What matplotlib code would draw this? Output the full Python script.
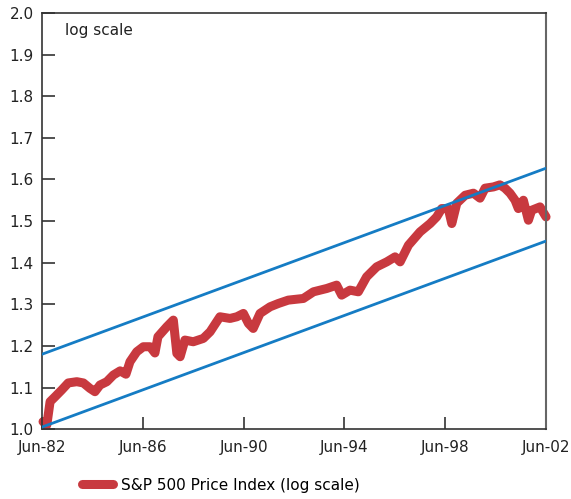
import matplotlib
matplotlib.use("Agg")
import matplotlib.pyplot as plt

# S&P 500 price index, log scale (decimal years)
sp_years = [1982.54, 1982.69, 1982.82, 1983.02, 1983.28, 1983.54, 1983.88, 1984.14,
            1984.40, 1984.60, 1984.80, 1985.07, 1985.33, 1985.60, 1985.83, 1985.99,
            1986.26, 1986.52, 1986.79, 1986.98, 1987.10, 1987.45, 1987.71, 1987.85,
            1987.98, 1988.17, 1988.50, 1988.90, 1989.17, 1989.56, 1989.96, 1990.23,
            1990.49, 1990.69, 1990.88, 1991.15, 1991.55, 1991.88, 1992.27, 1992.87,
            1993.27, 1993.80, 1994.19, 1994.39, 1994.72, 1995.05, 1995.38, 1995.78,
            1996.18, 1996.51, 1996.71, 1997.04, 1997.50, 1997.90, 1998.16, 1998.36,
            1998.62, 1998.76, 1998.96, 1999.29, 1999.62, 1999.88, 2000.08, 2000.41,
            2000.67, 2000.87, 2001.07, 2001.27, 2001.40, 2001.60, 2001.80, 2001.93,
            2002.26, 2002.50]
sp_values = [1.018, 1.010, 1.066, 1.078, 1.094, 1.111, 1.114, 1.111,
             1.098, 1.090, 1.106, 1.114, 1.130, 1.140, 1.132, 1.162,
             1.186, 1.198, 1.198, 1.183, 1.222, 1.246, 1.262, 1.182,
             1.174, 1.214, 1.210, 1.218, 1.234, 1.270, 1.266, 1.270,
             1.278, 1.254, 1.242, 1.278, 1.294, 1.302, 1.310, 1.314,
             1.330, 1.338, 1.346, 1.322, 1.334, 1.330, 1.366, 1.390,
             1.402, 1.414, 1.402, 1.442, 1.474, 1.494, 1.510, 1.530,
             1.530, 1.494, 1.543, 1.562, 1.567, 1.555, 1.579, 1.582,
             1.587, 1.579, 1.567, 1.550, 1.530, 1.550, 1.502, 1.526,
             1.534, 1.510]

# trend channel
trend_years = [1982.5, 2002.5]
upper_band = [1.180, 1.627]
lower_band = [1.005, 1.452]

tick_years = [1982.5, 1986.5, 1990.5, 1994.5, 1998.5, 2002.5]
tick_labels = ["Jun-82", "Jun-86", "Jun-90", "Jun-94", "Jun-98", "Jun-02"]
y_ticks = [1.0, 1.1, 1.2, 1.3, 1.4, 1.5, 1.6, 1.7, 1.8, 1.9, 2.0]

plt.rcParams['font.family'] = ['DejaVu Sans']

fig = plt.figure(figsize=(5.71, 4.99), dpi=100)
ax = fig.add_axes([0.0736, 0.140, 0.8827, 0.834])

red = "#c8393f"
blue = "#157cc4"

#red index line, then the blue channel drawn on top
ax.plot(sp_years, sp_values, color=red, linewidth=6.5, solid_capstyle="round",
        solid_joinstyle="round", label="S&P 500 Price Index (log scale)",
        zorder=2, clip_on=False)
ax.plot(trend_years, upper_band, color=blue, linewidth=2, zorder=3)
ax.plot(trend_years, lower_band, color=blue, linewidth=2, zorder=3)

ax.set_xlim(1982.5, 2002.5)
ax.set_ylim(1.0, 2.0)
ax.set_xticks(tick_years)
ax.set_xticklabels(tick_labels)
ax.set_yticks(y_ticks)
ax.set_yticklabels(["%.1f" % v for v in y_ticks])

ax.tick_params(axis="both", direction="in", length=9, width=1.2, color="#333333",
               labelsize=11, colors="#222222")
ax.tick_params(axis="y", pad=6)
ax.tick_params(axis="x", pad=8)

for side in ["left", "bottom", "top"]:
    ax.spines[side].set_color("#333333")
    ax.spines[side].set_linewidth(1.2)
ax.spines["right"].set_color("#666666")
ax.spines["right"].set_linewidth(1.5)

ax.text(0.046, 0.958, "log scale", transform=ax.transAxes, fontsize=11,
        color="#222222", va="center", ha="left")

ax.legend(loc="center", bbox_to_anchor=(0.355, -0.135), frameon=False,
          fontsize=11, handlelength=2.0, handletextpad=0.5)

fig.savefig("out.png", dpi=100)
